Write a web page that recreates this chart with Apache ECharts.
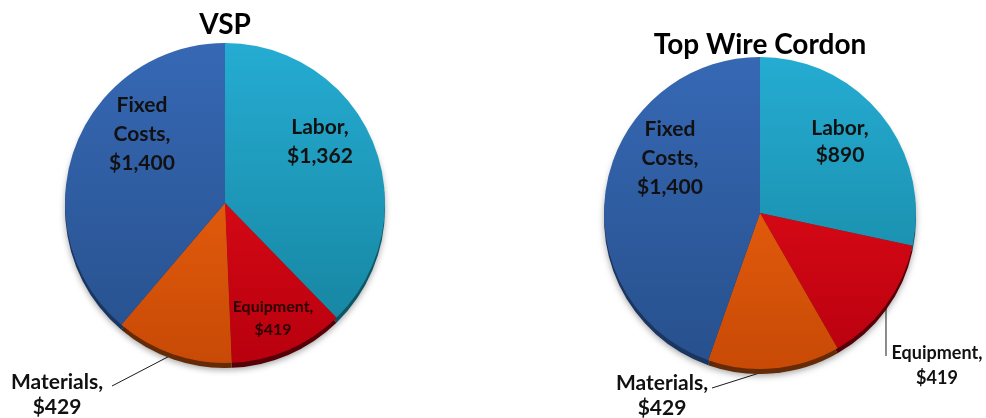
<!DOCTYPE html>
<html>
<head>
<meta charset="utf-8">
<script src="https://cdn.jsdelivr.net/npm/echarts@6/dist/echarts.min.js"></script>
<style>
  html, body { margin: 0; padding: 0; background: #ffffff; }
  #chart { width: 986px; height: 418px; }
</style>
</head>
<body>
<div id="chart"></div>
<script>
// Cost breakdown per trellis system
const categories = ['Labor', 'Equipment', 'Materials', 'Fixed Costs'];
const vspCosts = [1362, 419, 429, 1400];
const topWireCosts = [890, 419, 429, 1400];
const chartTitles = ['VSP', 'Top Wire Cordon'];

// Slice shading: light top / dark bottom, plus a dark rim underneath
const sliceTop = ['#25acd2', '#f0101c', '#fa6a12', '#3668b4'];
const sliceBottom = ['#15819c', '#b8000e', '#c84a06', '#27508c'];
const rimColors = ['#0d5565', '#560008', '#652a06', '#1a3560'];

const FONT = 'Lato, "Open Sans", sans-serif';
const WEIGHT = 'bold';

const pies = [
  {
    title: chartTitles[0], values: vspCosts,
    center: [225, 203], radius: 160, titleY: 25,
    // label block centres relative to the pie centre
    spots: [[95, -61], [48, 115], [-168, 192], [-83, -69]],
    sizes: [21, 16, 21, 21],
    heights: [29, 23, 25, 29],
    outside: [false, false, true, false],
    leaderEnds: [null, null, [-113, 183], null],
    textColors: ['#111', '#2a0000', '#111', '#111']
  },
  {
    title: chartTitles[1], values: topWireCosts,
    center: [760, 213], radius: 156, titleY: 45,
    spots: [[80, -71], [177, 153], [-98, 183], [-90, -55]],
    sizes: [21, 18, 21, 21],
    heights: [27, 25, 25, 29],
    outside: [false, true, true, false],
    leaderEnds: [null, 'down', [-48, 175], null],
    textColors: ['#111', '#111', '#111', '#111']
  }
];

function money(v) {
  return '$' + v.toLocaleString('en-US');
}

function gradient(pie, stopsTop, stopsBottom) {
  return {
    type: 'linear', global: true,
    x: 0, y: pie.center[1] - pie.radius, x2: 0, y2: pie.center[1] + pie.radius,
    colorStops: [{ offset: 0, color: stopsTop }, { offset: 1, color: stopsBottom }]
  };
}

function labelLayoutFor(pie) {
  return function (params) {
    const i = params.dataIndex;
    const spot = pie.spots[i];
    const out = {
      x: pie.center[0] + spot[0],
      y: pie.center[1] + spot[1],
      align: 'center',
      verticalAlign: 'middle'
    };
    const lead = pie.leaderEnds[i];
    if (lead && params.labelLinePoints) {
      const a = params.labelLinePoints[0];
      let end;
      if (lead === 'down') {
        end = [a[0], pie.center[1] + 143];
      } else {
        end = [pie.center[0] + lead[0], pie.center[1] + lead[1]];
      }
      out.labelLinePoints = [a, end, end];
    }
    return out;
  };
}

const series = [];
const graphics = [];

pies.forEach(function (pie) {
  // rim beneath the slices
  series.push({
    type: 'pie',
    silent: true,
    center: [pie.center[0], pie.center[1] + 5],
    radius: pie.radius,
    startAngle: 90,
    clockwise: true,
    label: { show: false },
    labelLine: { show: false },
    itemStyle: { shadowBlur: 6, shadowColor: 'rgba(0,0,0,0.35)', shadowOffsetY: 2 },
    data: categories.map(function (name, i) {
      return { name: name, value: pie.values[i], itemStyle: { color: rimColors[i] } };
    })
  });

  series.push({
    type: 'pie',
    center: pie.center,
    radius: pie.radius,
    startAngle: 90,
    clockwise: true,
    avoidLabelOverlap: false,
    labelLayout: labelLayoutFor(pie),
    data: categories.map(function (name, i) {
      return {
        name: name,
        value: pie.values[i],
        itemStyle: { color: gradient(pie, sliceTop[i], sliceBottom[i]) },
        label: {
          show: true,
          position: pie.outside[i] ? 'outside' : 'inside',
          fontFamily: FONT,
          fontWeight: WEIGHT,
          fontSize: pie.sizes[i],
          lineHeight: pie.heights[i],
          color: pie.textColors[i],
          align: 'center',
          formatter: function (p) {
            return p.name.replace(' ', '\n') + ',\n' + money(p.value);
          }
        },
        labelLine: {
          show: pie.outside[i],
          length: 10,
          length2: 10,
          lineStyle: { color: '#1a1a1a', width: 1 }
        }
      };
    })
  });

  graphics.push({
    type: 'text',
    x: pie.center[0],
    y: pie.titleY,
    style: {
      text: pie.title,
      font: WEIGHT + ' 28px ' + FONT,
      fill: '#000',
      align: 'center',
      verticalAlign: 'middle',
      textAlign: 'center',
      textVerticalAlign: 'middle'
    }
  });
});

const chart = echarts.init(document.getElementById('chart'), null, { renderer: 'canvas' });
chart.setOption({
  animation: false,
  backgroundColor: '#ffffff',
  graphic: graphics,
  series: series
});
</script>
</body>
</html>
